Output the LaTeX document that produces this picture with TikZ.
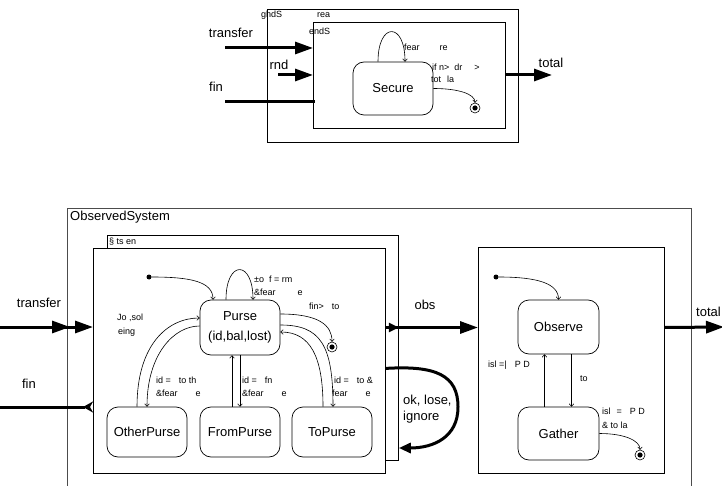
\documentclass[tikz,border=0pt]{standalone}
\usepackage{fontspec}
\setmainfont{Liberation Sans}
\usetikzlibrary{arrows.meta,positioning}

\begin{document}
\begin{tikzpicture}[x=1pt,y=-1pt,
  boite/.style={draw,line width=0.8pt,inner sep=0pt,anchor=north west},
  etat/.style={draw,line width=0.7pt,rounded corners=11pt,align=center,inner sep=0pt,
    font=\fontsize{13}{20}\selectfont},
  grand/.style={font=\fontsize{13}{16}\selectfont,inner sep=0pt},
  petit/.style={font=\fontsize{9}{11}\selectfont,inner sep=0pt,anchor=west},
  trans/.style={line width=0.6pt,-{To[length=3pt,width=5pt]}},
  flux/.style={line width=3pt,-{Triangle[length=18pt,width=12pt]}},
  depart/.style={circle,fill,inner sep=0pt,minimum size=5pt},
  arrivee/.style={circle,draw,line width=0.6pt,inner sep=0pt,minimum size=10pt,
    path picture={\fill (path picture bounding box.center) circle (2.6pt);}}
]
\useasboundingbox (0,0) rectangle (722,486);

%%%% partie du haut : Secure
\node[boite,minimum width=251pt,minimum height=133pt] (cadreH) at (267,9) {};
\node[boite,minimum width=192pt,minimum height=106pt] (blocH) at (313,22) {};
\node[petit] (nomH) at (261,15) {ghdS};
\node[petit] (nomHb) at (317,15) {rea};
\node[petit] (nomHc) at (309,31) {endS};

\node[etat,minimum width=80pt,minimum height=53pt] (secure) at (393,88.5) {Secure};
\node[arrivee] (finH) at (475,108) {};

% flux d'entree et de sortie
\coordinate (eTransH) at (225,48);
\coordinate (eRndH) at (278,75);
\coordinate (eFinH) at (225,102);
\coordinate (sTotH) at (552,75);
\node[grand] (lTransH) at (231,33) {transfer};
\node[grand] (lRndH) at (279,65) {rnd};
\node[grand] (lFinH) at (216,87) {fin};
\node[grand] (lTotH) at (551,63) {total};
\draw[flux] (eTransH) -- (eTransH -| blocH.west);
\draw[flux] (eRndH) -- (eRndH -| blocH.west);
\draw[line width=3pt] (eFinH) -- ([xshift=2pt]eFinH -| blocH.west);
\draw[flux] (sTotH -| blocH.east) -- (sTotH);

% transitions
\draw[trans] ([xshift=-15pt]secure.north) .. controls +(0,-40) and +(0,-40) .. ([xshift=12pt]secure.north);
\draw[trans] (secure.east) .. controls +(25,0) and +(0,-14) .. (finH);
\node[petit] at (404,47) {fear\hspace{20pt}re};
\node[petit] at (432,67) {if n>\ \ dr\hspace{12pt}>};
\node[petit] at (431,79) {tot\hspace{6pt}la};

%%%% partie du bas : ObservedSystem
\node[boite,draw=black!70,minimum width=624pt,minimum height=300pt] (obsSys) at (67,208) {};
\node[grand,anchor=west] (nomObs) at (70,217) {ObservedSystem};

\node[boite,minimum width=291pt,minimum height=225pt] (sysB) at (107,235) {};
\node[petit] (nomSys) at (109,242) {§\ ts en};
\node[boite,fill=white,minimum width=292pt,minimum height=225pt] (sysF) at (93,248) {};

% etats du porte-monnaie
\node[etat,minimum width=80pt,minimum height=55pt] (purse) at (240,327.5) {Purse\\(id,bal,lost)};
\node[etat,minimum width=80pt,minimum height=50pt] (otherPurse) at (147,432) {OtherPurse};
\node[etat,minimum width=80pt,minimum height=50pt] (fromPurse) at (240,432) {FromPurse};
\node[etat,minimum width=80pt,minimum height=50pt] (toPurse) at (332,432) {ToPurse};
\node[depart] (initS) at (149,277) {};
\node[arrivee] (finS) at (332,347) {};

\draw[trans] (initS) .. controls +(42,0) and +(0,-18) .. ([xshift=-27pt]purse.north);
\draw[trans] ([xshift=-14pt]purse.north) .. controls +(0,-40) and +(0,-40) .. ([xshift=13pt]purse.north);
\draw[trans] ([yshift=13.5pt]purse.east) .. controls +(38,0) and +(0,-22) .. (finS);

\draw[trans] ([xshift=-10pt]otherPurse.north) .. controls +(0,-62) and +(-32,0) .. ([yshift=9.5pt]purse.west);
\draw[trans] ([yshift=1.5pt]purse.west) .. controls +(-26,0) and +(0,-52) .. (otherPurse.north);

\draw[trans] ([xshift=-8pt]fromPurse.north) -- ([xshift=-8pt]purse.south);
\draw[trans] (purse.south) -- (fromPurse.north);

\draw[trans] ([yshift=2.5pt]purse.east) .. controls +(40,0) and +(0,-62) .. ([xshift=1pt]toPurse.north);
\draw[trans] ([xshift=-9pt]toPurse.north) .. controls +(0,-50) and +(30,0) .. ([yshift=-4.5pt]purse.east);

\node[petit] at (117,318) {Jo ,sol};
\node[petit] at (118,332) {eing};
\node[petit] at (254,279) {±o\ \ f = rm};
\node[petit] at (254,292) {\&fear\hspace{22pt}e};
\node[petit] at (309,306) {fin>\hspace{8pt}to};
\node[petit] at (156,380) {id =\hspace{8pt}to th};
\node[petit] at (156,393) {\&fear\hspace{18pt}e};
\node[petit] at (242,380) {id =\hspace{8pt}fn};
\node[petit] at (242,393) {\&fear\hspace{18pt}e};
\node[petit] at (334,380) {id =\hspace{8pt}to \&};
\node[petit] at (332,393) {fear\hspace{18pt}e};

% observateur
\node[boite,minimum width=186pt,minimum height=226pt] (obsv) at (478,247) {};
\node[etat,minimum width=81pt,minimum height=54pt] (observe) at (558.5,327) {Observe};
\node[etat,minimum width=81pt,minimum height=53pt] (gather) at (558.5,433.5) {Gather};
\node[depart] (initO) at (496,277) {};
\node[arrivee] (finO) at (640,455) {};

\draw[trans] (initO) .. controls +(42,0) and +(0,-16) .. (observe.north);
\draw[trans] ([xshift=-14pt]gather.north) -- ([xshift=-14pt]observe.south);
\draw[trans] ([xshift=13pt]observe.south) -- ([xshift=13pt]gather.north);
\draw[trans] (gather.east) .. controls +(26,0) and +(0,-14) .. (finO);

\node[petit] at (488,365) {isl =|\hspace{8pt}P D};
\node[petit] at (580,379) {to};
\node[petit] at (602,411) {isl\hspace{6pt}=\hspace{8pt}P D};
\node[petit] at (602,425) {\& to la};

% flux du bas
\coordinate (eTransB) at (0,327);
\coordinate (eFinB) at (0,407);
\coordinate (sTotB) at (724,327);
\coordinate (rOk) at (398,448);
\node[grand] (lTransB) at (39,303) {transfer};
\node[grand] (lFinB) at (29,384) {fin};
\node[grand] (lObs) at (425,305) {obs};
\node[grand,anchor=east] (lTotB) at (721,312) {total};

\draw[flux] (eTransB) -- (eTransB -| sysF.west);
\draw[flux] (eTransB) -- ([xshift=3pt]eTransB -| obsSys.west);
\draw[line width=3pt,-{Stealth[reversed,length=10pt,width=11pt,inset=3pt]}] (eFinB) -- (eFinB -| sysF.west);

\draw[flux] (sysF.east |- purse) -- (obsv.west |- purse);
\draw[line width=3pt,-{Triangle[length=10pt,width=9pt]}] (sysF.east |- purse) -- (sysB.east |- purse);
\draw[flux] (obsv.east |- purse) -- (sTotB);

% boucle ok, lose, ignore
\draw[line width=3pt,-{Triangle[length=12pt,width=10pt]}] ([yshift=-7.5pt]sysF.east)
  .. controls +(50,-3) and +(0,-32) .. (458,407)
  .. controls +(0,30) and +(35,0) .. (sysB.east |- rOk);
\node[grand,anchor=north west,align=left] (lOk) at (403,395) {ok, lose,\\ignore};

\end{tikzpicture}
\end{document}
